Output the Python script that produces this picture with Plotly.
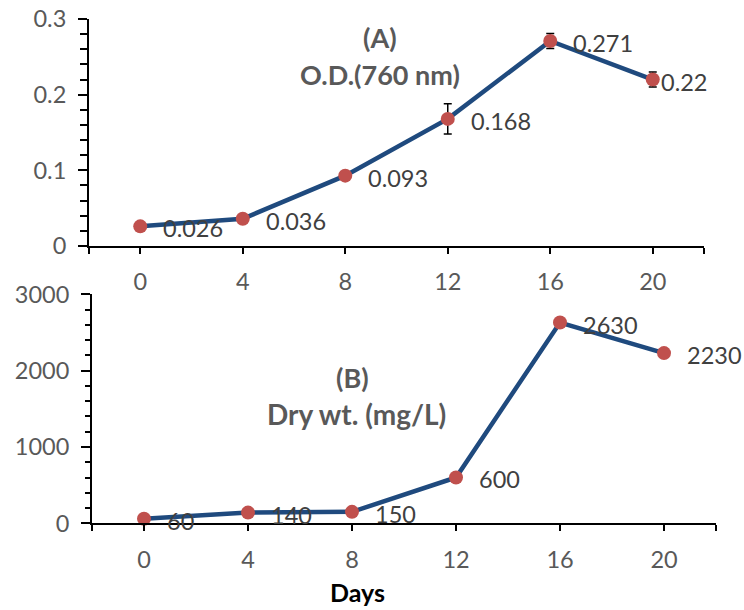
import plotly.graph_objects as go

days = [0, 4, 8, 12, 16, 20]
od_values = [0.026, 0.036, 0.093, 0.168, 0.271, 0.22]
od_errors = [0, 0, 0, 0.02, 0.01, 0.01]
od_labels = ["0.026", "0.036", "0.093", "0.168", "0.271", "0.22"]
dry_values = [60, 140, 150, 600, 2630, 2230]
dry_labels = ["60", "140", "150", "600", "2630", "2230"]
x_tick_labels = ["0", "4", "8", "12", "16", "20"]

W, H = 744, 610
OFF = 0  # body margin is removed by the post script below
LINE = "#1F4A7E"
MARK = "#C0504D"
FONT = "Lato"
TICKC = "#595959"
TS = 23.5

def px_x(px):
    return (px - OFF) / W

def px_y(py):
    return 1 - (py - OFF) / H

fig = go.Figure()

fig.add_trace(go.Scatter(
    x=days, y=od_values, mode="lines+markers", xaxis="x", yaxis="y",
    line=dict(color=LINE, width=4.5),
    marker=dict(color=MARK, size=14),
    error_y=dict(type="data", array=od_errors, visible=True, color="black", thickness=1.5, width=4),
    showlegend=False, cliponaxis=False,
))
fig.add_trace(go.Scatter(
    x=days, y=dry_values, mode="lines+markers", xaxis="x2", yaxis="y2",
    line=dict(color=LINE, width=4.5),
    marker=dict(color=MARK, size=14),
    showlegend=False, cliponaxis=False,
))

ann = []
for i, (d, v, t) in enumerate(zip(days, od_values, od_labels)):
    shift = 6 if i == len(days) - 1 else 21
    ann.append(dict(x=d, y=v, xref="x", yref="y", text=t, showarrow=False,
                    xanchor="left", yanchor="middle", xshift=shift, yshift=-2,
                    font=dict(family=FONT, size=TS, color="#404040")))
for d, v, t in zip(days, dry_values, dry_labels):
    ann.append(dict(x=d, y=v, xref="x2", yref="y2", text=t, showarrow=False,
                    xanchor="left", yanchor="middle", xshift=21, yshift=-2,
                    font=dict(family=FONT, size=TS, color="#404040")))

for txt, px, py, col, sz in [("(A)", 380, 37, TICKC, 27), ("O.D.(760 nm)", 380, 74, TICKC, 27),
                             ("(B)", 352, 377, TICKC, 27), ("Dry wt. (mg/L)", 356, 414, TICKC, 28),
                             ("Days", 357, 592, "black", 25)]:
    ann.append(dict(x=px_x(px), y=px_y(py), xref="paper", yref="paper", text="<b>" + txt + "</b>",
                    showarrow=False, xanchor="center", yanchor="middle",
                    font=dict(family=FONT, size=sz, color=col)))

xt_vals = [-2] + days + [22]
xt_text = [""] + x_tick_labels + [""]

xcommon = dict(range=[-2, 22], tickmode="array", tickvals=xt_vals, ticktext=xt_text,
               ticks="outside", ticklen=6, tickwidth=2, tickcolor="black", automargin=False,
               showline=True, linecolor="black", linewidth=2, showgrid=False, zeroline=False,
               ticklabeloverflow="allow",
               tickfont=dict(family=FONT, size=TS, color=TICKC), ticklabelstandoff=8)

ycommon = dict(ticks="outside", ticklen=9, tickwidth=2, tickcolor="black", automargin=False,
               showline=True, linecolor="black", linewidth=2, showgrid=False, zeroline=False,
               ticklabeloverflow="allow",
               tickfont=dict(family=FONT, size=TS, color=TICKC), ticklabelstandoff=7)

top_dom = [px_y(246), px_y(19)]
bot_dom = [px_y(523.3), px_y(294.3)]

fig.update_layout(
    width=W, height=H, margin=dict(l=0, r=0, t=0, b=0, pad=0), autosize=False,
    paper_bgcolor="white", plot_bgcolor="white",
    xaxis=dict(domain=[px_x(89), px_x(704)], anchor="y", **xcommon),
    yaxis=dict(domain=top_dom, anchor="x", range=[0, 0.3], tickmode="array",
               tickvals=[0, 0.1, 0.2, 0.3], ticktext=["0", "0.1", "0.2", "0.3"],
               minor=dict(dtick=0.02, ticks="outside", ticklen=7, tickwidth=2, tickcolor="black"),
               **ycommon),
    yaxis3=dict(overlaying="y", anchor="x", range=[0, 0.3], dtick=0.1, ticks="inside",
                ticklen=8, tickwidth=2, tickcolor="black", showticklabels=False, automargin=False,
                showline=False, showgrid=False, zeroline=False),
    xaxis2=dict(domain=[px_x(92), px_x(716)], anchor="y2", **xcommon),
    yaxis2=dict(domain=bot_dom, anchor="x2", range=[0, 3000], dtick=1000,
                minor=dict(dtick=200, ticks="outside", ticklen=5, tickwidth=2, tickcolor="black"),
                **ycommon),
    yaxis4=dict(overlaying="y2", anchor="x2", range=[0, 3000], dtick=1000, ticks="inside",
                ticklen=8, tickwidth=2, tickcolor="black", showticklabels=False, automargin=False,
                showline=False, showgrid=False, zeroline=False),
    annotations=ann,
)

fig.write_html("out.html", config={"displayModeBar": False},
               post_script="document.body.style.margin='0';")
